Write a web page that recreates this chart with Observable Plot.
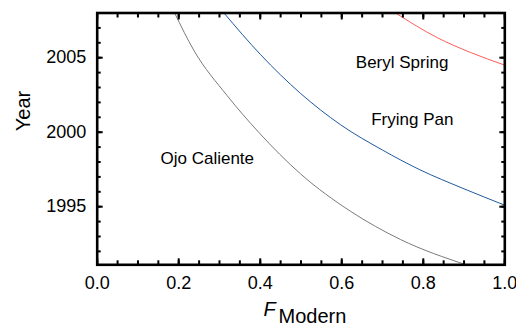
<!DOCTYPE html>
<html>
<head>
<meta charset="utf-8">
<script src="https://cdn.jsdelivr.net/npm/d3@7"></script>
<script src="https://cdn.jsdelivr.net/npm/@observablehq/plot@0.6"></script>
<style>
  html, body { margin: 0; padding: 0; background: #fff; }
  #chart svg { display: block; }
</style>
</head>
<body>
<div id="chart"></div>
<script>
// ---- data ----
const ojoF    = [0.190, 0.237, 0.319, 0.396, 0.499, 0.621, 0.744, 0.905];
const ojoYear = [2008.0, 2005.5, 2002.45, 2000.0, 1997.2, 1994.7, 1992.8, 1991.1];

const fryingF    = [0.311, 0.401, 0.499, 0.597, 0.700, 0.790, 0.900, 1.000];
const fryingYear = [2008.0, 2005.2, 2002.6, 2000.5, 1998.8, 1997.5, 1996.2, 1995.1];

const berylF    = [0.732, 0.834, 0.916, 1.000];
const berylYear = [2008.0, 2006.35, 2005.35, 2004.5];

const labelNames = ["Beryl Spring", "Frying Pan", "Ojo Caliente"];
const labelF     = [0.748, 0.773, 0.270];
const labelYear  = [2004.67, 2000.88, 1998.2];

const xTickLabels = [0.0, 0.2, 0.4, 0.6, 0.8, 1.0];
const yTickLabels = [1995, 2000, 2005];
const xMinorTicks = d3.range(0, 1.0001, 0.05);
const yMinorTicks = d3.range(1992, 2008.01, 1);

const series = [
  {name: "Ojo Caliente", F: ojoF, Y: ojoYear, color: "#7a7a7a"},
  {name: "Frying Pan", F: fryingF, Y: fryingYear, color: "#1f5a9e"},
  {name: "Beryl Spring", F: berylF, Y: berylYear, color: "#ff5c5c"}
];
const lineData = series.flatMap(s => s.F.map((f, i) => ({name: s.name, F: f, Year: s.Y[i], color: s.color})));
const labels = labelNames.map((n, i) => ({name: n, F: labelF[i], Year: labelYear[i]}));

const tickStyle = {strokeWidth: 2, fill: "none", label: null};

const chart = Plot.plot({
  width: 516,
  height: 330,
  marginLeft: 96.7,
  marginRight: 11.7,
  marginTop: 12.5,
  marginBottom: 65.7,
  style: {fontFamily: "'Liberation Sans', Arial, Helvetica, sans-serif", color: "#000", background: "#fff"},
  x: {domain: [0, 1]},
  y: {domain: [1991.1, 2008]},
  marks: [
    Plot.line(lineData, {x: "F", y: "Year", z: "name", stroke: "color", strokeWidth: 1, curve: "monotone-x", clip: true}),
    // minor ticks, inward on all sides
    Plot.axisX(xMinorTicks, {anchor: "bottom", tickSize: -4, ...tickStyle}),
    Plot.axisX(xMinorTicks, {anchor: "top", tickSize: -4, ...tickStyle}),
    Plot.axisY(yMinorTicks, {anchor: "left", tickSize: -4, ...tickStyle}),
    Plot.axisY(yMinorTicks, {anchor: "right", tickSize: -4, ...tickStyle}),
    // major ticks
    Plot.axisX(xTickLabels, {anchor: "bottom", tickSize: -6, ...tickStyle}),
    Plot.axisX(xTickLabels, {anchor: "top", tickSize: -6, ...tickStyle}),
    Plot.axisY(yTickLabels, {anchor: "left", tickSize: -6, ...tickStyle}),
    Plot.axisY(yTickLabels, {anchor: "right", tickSize: -6, ...tickStyle}),
    // tick labels
    Plot.axisX(xTickLabels, {anchor: "bottom", tickSize: 0, tickPadding: 11, tickFormat: d3.format(".1f"), fontSize: 18, fill: "#000", label: null}),
    Plot.axisY(yTickLabels, {anchor: "left", tickSize: 0, tickPadding: 11, tickFormat: d => String(d), fontSize: 18, fill: "#000", label: null}),
    Plot.frame({stroke: "#000", strokeWidth: 2.6}),
    // series labels
    Plot.text(labels, {x: "F", y: "Year", text: "name", fontSize: 17, fill: "#000"}),
    // axis titles
    Plot.text(["Year"], {frameAnchor: "left", dx: -73.7, dy: -7.7, rotate: -90, fontSize: 20, fill: "#000"}),
    Plot.text(["F"], {frameAnchor: "bottom", dx: -37.5, dy: 50.7, textAnchor: "start", fontStyle: "italic", fontSize: 20, fill: "#000"}),
    Plot.text(["Modern"], {frameAnchor: "bottom", dx: -22.5, dy: 57.7, textAnchor: "start", fontSize: 20, fill: "#000"})
  ]
});
document.getElementById("chart").appendChild(chart);
</script>
</body>
</html>
